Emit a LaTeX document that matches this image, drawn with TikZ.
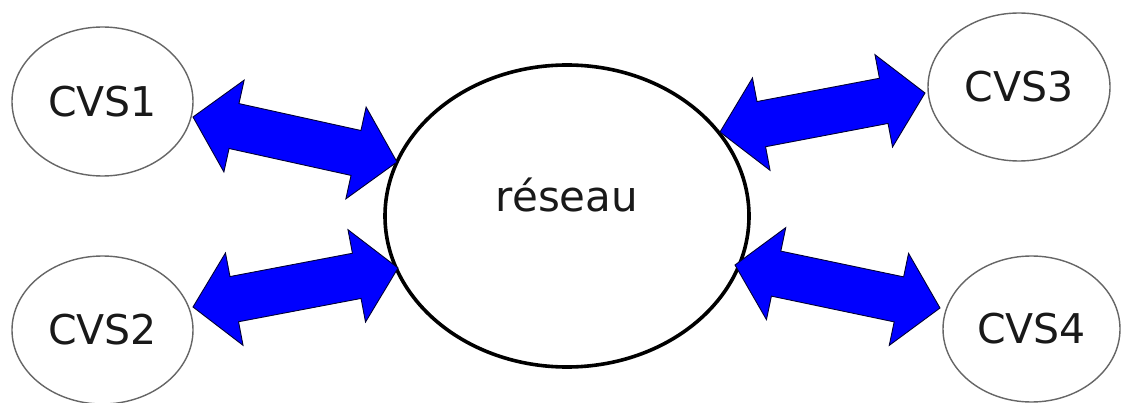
\documentclass[tikz,border=0pt]{standalone}
\usepackage{fontspec}
\setmainfont{DejaVu Sans}
\usetikzlibrary{shapes.geometric,calc}
\tikzset{
  cvs/.style={ellipse,draw=black!60,line width=1.4pt,inner sep=0pt,
    font=\fontsize{41}{48}\selectfont,text=black!90},
  net/.style={ellipse,draw=black,line width=3.6pt,inner sep=0pt,
    font=\fontsize{42}{50}\selectfont,text=black!90},
  blockarrow/.style={fill={rgb,255:red,0;green,0;blue,255},draw=black!80!blue,line width=0.9pt,line join=miter}
}
\newcommand\dblarrow[2]{%
  \filldraw[blockarrow] (#1)
    -- ($(#1)!42pt!(#2)!47pt!90:(#2)$)
    -- ($(#1)!42pt!(#2)!23pt!90:(#2)$)
    -- ($(#2)!42pt!(#1)!23pt!-90:(#1)$)
    -- ($(#2)!42pt!(#1)!47pt!-90:(#1)$)
    -- (#2)
    -- ($(#2)!42pt!(#1)!47pt!90:(#1)$)
    -- ($(#2)!42pt!(#1)!23pt!90:(#1)$)
    -- ($(#1)!42pt!(#2)!23pt!-90:(#2)$)
    -- ($(#1)!42pt!(#2)!47pt!-90:(#2)$)
    -- cycle;}
\begin{document}
\begin{tikzpicture}[x=1pt,y=-1pt]
\useasboundingbox[fill=white] (0,0) rectangle (1121,403);
\node[cvs,minimum width=181pt,minimum height=149pt] (c1) at (102.5,101.5) {CVS1};
\node[cvs,minimum width=181pt,minimum height=148pt] (c2) at (102.5,330) {CVS2};
\node[cvs,minimum width=182pt,minimum height=148pt] (c3) at (1019,87) {CVS3};
\node[cvs,minimum width=177pt,minimum height=146pt] (c4) at (1031.5,329) {CVS4};
\node[net,minimum width=364pt,minimum height=302pt,text height=31pt,text depth=40pt] (n) at (567,216) {réseau};
% arrow end points on the ellipse borders
\coordinate (a1s) at (193,117); \coordinate (a1e) at (397,162);
\coordinate (a2s) at (193,307); \coordinate (a2e) at (398,268);
\coordinate (a3s) at (720,132); \coordinate (a3e) at (925,93);
\coordinate (a4s) at (735,265); \coordinate (a4e) at (940,308);
\dblarrow{a1s}{a1e}
\dblarrow{a2s}{a2e}
\dblarrow{a3s}{a3e}
\dblarrow{a4s}{a4e}
\end{tikzpicture}
\end{document}
